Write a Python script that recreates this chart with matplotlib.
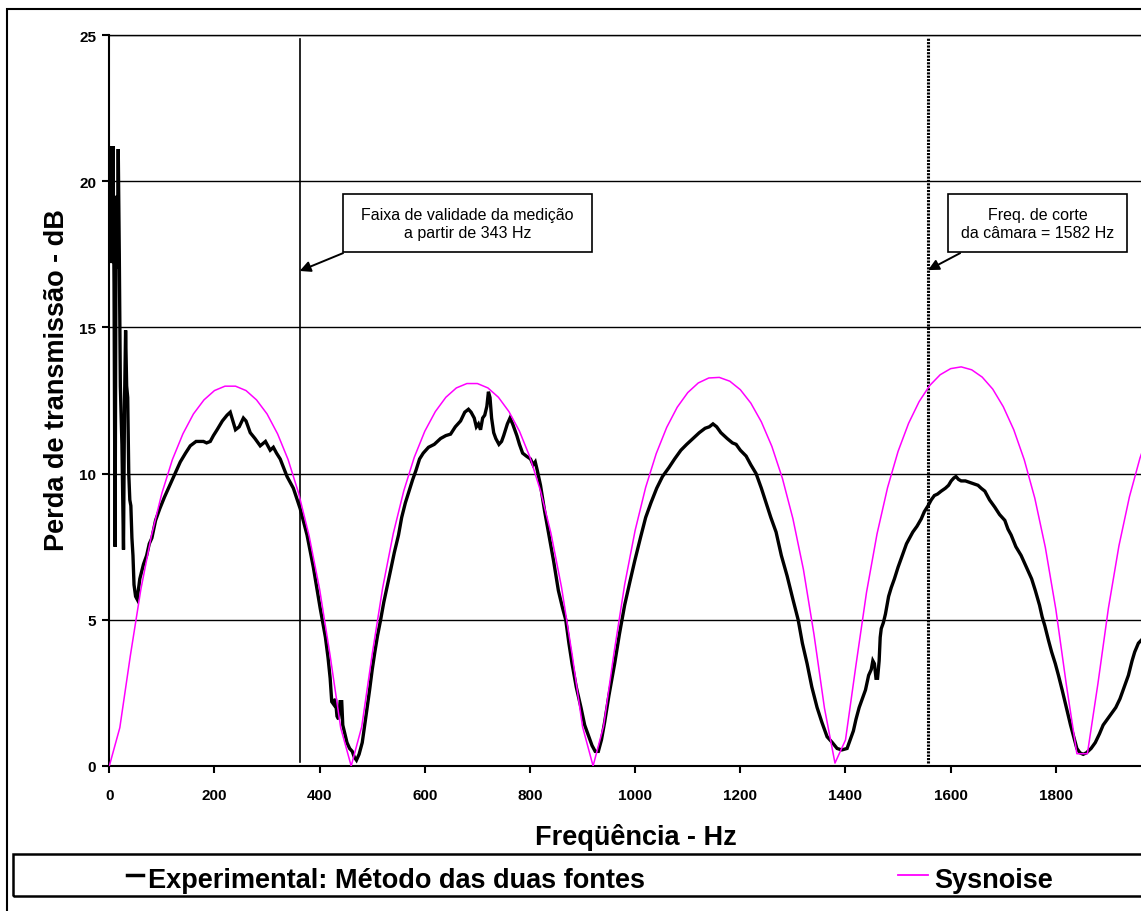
import matplotlib
matplotlib.use('Agg')
import matplotlib.pyplot as plt
from matplotlib.patches import Rectangle
from matplotlib.lines import Line2D
import numpy as np

plt.rcParams['font.family'] = ['Liberation Sans', 'DejaVu Sans']

W, H = 1141, 912

# ── Sysnoise prediction, read every 20 Hz from the picture ──────────────────
sys_freq = np.arange(0, 2001, 20)
sys_tl = [
    0.00, 1.31, 3.77, 6.04, 7.87, 9.33, 10.48, 11.36, 12.04, 12.52, 12.84, 12.99,
    12.99, 12.84, 12.52, 12.04, 11.36, 10.48, 9.33, 7.87, 6.04, 3.77, 1.31, 0.00,
    1.34, 3.83, 6.11, 7.95, 9.41, 10.56, 11.45, 12.12, 12.61, 12.93, 13.08,
    13.08, 12.93, 12.61, 12.12, 11.45, 10.56, 9.41, 7.95, 6.11, 3.83, 1.34, 0.00,
    1.37, 3.89, 6.20, 8.06, 9.53, 10.68, 11.58, 12.27, 12.77, 13.10, 13.27,
    13.29, 13.16, 12.87, 12.41, 11.77, 10.93, 9.84, 8.46, 6.72, 4.51, 1.98, 0.10,
    0.89, 3.46, 5.94, 7.94, 9.52, 10.76, 11.72, 12.46, 13.01, 13.38, 13.59,
    13.65, 13.55, 13.30, 12.89, 12.29, 11.50, 10.47, 9.16, 7.48, 5.36, 2.78, 0.42,
    0.42, 2.81, 5.40, 7.53, 9.21, 10.53, 11.56, 12.35,
]

# ── Experimental (two-source method) ────────────────────────────────────────
exp_freq = [
    1, 3, 5, 7, 9, 11, 13, 15, 17, 19, 21, 24, 27, 29, 31, 33, 35, 37, 39, 41,
    43, 45, 47, 50, 53, 58, 65, 71, 76, 81, 88, 96, 105, 115, 125, 135, 145,
    154, 165, 179, 185, 192, 198, 205, 215, 224, 230, 235, 240, 247, 255, 260,
    268, 277, 287, 297, 306, 312, 318, 325, 338, 350, 363, 376, 388, 401, 411,
    416, 420, 423, 427, 430, 433, 436, 439, 442, 444, 448, 452, 457, 462, 466,
    470, 475, 481, 485, 490, 495, 500, 505, 510, 516, 522, 528, 535, 542, 550,
    556, 563, 570, 577, 583, 590, 597, 607, 618, 630, 640, 649, 658, 668, 676,
    683, 688, 694, 698, 702, 706, 710, 714, 718, 721, 724, 727, 731, 735, 741,
    746, 750, 757, 762, 767, 775, 780, 786, 793, 801, 806, 810, 814, 820, 828,
    835, 845, 854, 862, 868, 874, 880, 888, 897, 904, 912, 918, 924, 930, 936,
    942, 950, 956, 961, 970, 980, 990, 999, 1010, 1020, 1030, 1041, 1052, 1064,
    1075, 1087, 1098, 1110, 1122, 1133, 1141, 1148, 1155, 1163, 1175, 1185,
    1192, 1200, 1211, 1220, 1230, 1240, 1249, 1258, 1268, 1278, 1289, 1300,
    1310, 1318, 1327, 1336, 1346, 1355, 1365, 1375, 1384, 1393, 1403, 1409,
    1415, 1420, 1426, 1432, 1438, 1444, 1449, 1452, 1455, 1458, 1461, 1464,
    1466, 1468, 1472, 1476, 1482, 1487, 1493, 1500, 1506, 1516, 1528, 1536,
    1544, 1550, 1557, 1563, 1569, 1575, 1582, 1590, 1596, 1601, 1606, 1610,
    1615, 1620, 1628, 1636, 1644, 1652, 1658, 1665, 1674, 1684, 1693, 1703,
    1709, 1715, 1724, 1734, 1744, 1754, 1761, 1769, 1774, 1779, 1786, 1792,
    1799, 1805, 1812, 1820, 1828, 1834, 1840, 1846, 1852, 1858, 1867, 1875,
    1883, 1890, 1898, 1914, 1922, 1930, 1938, 1945, 1950, 1957, 1965, 1975, 1985,
]
exp_tl = [
    20.8, 21.2, 17.2, 21.2, 16.5, 7.5, 19.5, 17.0, 21.1, 17.5, 13.0, 11.0, 7.4,
    12.5, 14.9, 13.0, 12.6, 10.0, 9.1, 8.9, 7.8, 7.2, 6.2, 5.8, 5.7, 6.4, 6.9,
    7.2, 7.6, 7.8, 8.4, 8.8, 9.2, 9.6, 10.0, 10.4, 10.7, 10.95, 11.1, 11.1,
    11.05, 11.1, 11.3, 11.5, 11.8, 12.0, 12.1, 11.8, 11.5, 11.6, 11.9, 11.8,
    11.4, 11.2, 10.95, 11.1, 10.8, 10.9, 10.7, 10.5, 9.9, 9.5, 8.8, 7.9, 6.8,
    5.4, 4.4, 3.7, 3.0, 2.2, 2.1, 2.3, 1.7, 1.6, 2.2, 2.2, 1.4, 1.1, 0.8, 0.6,
    0.5, 0.3, 0.2, 0.4, 0.8, 1.3, 1.95, 2.6, 3.3, 3.9, 4.45, 5.0, 5.6, 6.1,
    6.7, 7.3, 7.9, 8.5, 9.0, 9.4, 9.8, 10.1, 10.5, 10.7, 10.9, 11.0, 11.2,
    11.3, 11.35, 11.6, 11.8, 12.1, 12.2, 12.1, 11.9, 11.6, 11.7, 11.5, 11.9,
    12.0, 12.3, 12.8, 12.6, 11.9, 11.4, 11.2, 11.0, 11.1, 11.3, 11.7, 11.9,
    11.7, 11.3, 11.0, 10.7, 10.6, 10.5, 10.3, 10.4, 10.1, 9.6, 8.7, 8.0, 7.0,
    6.0, 5.4, 5.0, 4.2, 3.5, 2.7, 2.0, 1.4, 1.0, 0.7, 0.5, 0.5, 0.9, 1.5, 2.4,
    3.0, 3.5, 4.5, 5.5, 6.3, 7.0, 7.8, 8.5, 9.0, 9.5, 9.9, 10.2, 10.5, 10.8,
    11.0, 11.2, 11.4, 11.55, 11.6, 11.7, 11.6, 11.4, 11.2, 11.05, 11.0, 10.8,
    10.6, 10.3, 10.0, 9.5, 9.0, 8.5, 8.0, 7.2, 6.5, 5.7, 5.0, 4.2, 3.5, 2.7,
    2.0, 1.5, 1.0, 0.8, 0.6, 0.55, 0.6, 0.9, 1.2, 1.6, 2.0, 2.3, 2.6, 3.1,
    3.3, 3.6, 3.5, 3.0, 3.0, 3.6, 4.4, 4.7, 4.9, 5.2, 5.8, 6.1, 6.4, 6.8, 7.1,
    7.6, 8.0, 8.2, 8.45, 8.7, 8.9, 9.1, 9.25, 9.3, 9.4, 9.5, 9.6, 9.75, 9.85,
    9.9, 9.8, 9.75, 9.75, 9.7, 9.65, 9.6, 9.5, 9.4, 9.1, 8.85, 8.6, 8.4, 8.1,
    7.9, 7.5, 7.2, 6.8, 6.4, 6.0, 5.5, 5.1, 4.8, 4.3, 3.9, 3.5, 3.1, 2.6, 2.0,
    1.4, 1.0, 0.6, 0.45, 0.4, 0.45, 0.6, 0.8, 1.1, 1.4, 1.6, 2.0, 2.3, 2.7,
    3.1, 3.6, 3.9, 4.2, 4.35, 4.5, 4.6,
]

# reference lines / annotations
f_valid = 362     # vertical line drawn at the "343 Hz" validity limit
f_cut = 1557      # dotted line, chamber cut-off
note_valid = 'Faixa de validade da medição\na partir de 343 Hz'
note_cut = 'Freq. de corte\nda câmara = 1582 Hz'

x_ticks = [0, 200, 400, 600, 800, 1000, 1200, 1400, 1600, 1800]
y_ticks = [0, 5, 10, 15, 20, 25]

fig = plt.figure(figsize=(W / 100, H / 100), dpi=100)
ax = fig.add_axes([109.3 / W, 145 / H, (1161 - 109.3) / W, 731 / H])

ax.plot(exp_freq, exp_tl, color='black', lw=2.4, solid_joinstyle='miter', zorder=3)
ax.plot(sys_freq, sys_tl, color='#FF00FF', lw=1.1, zorder=4)

ax.plot([f_valid, f_valid], [0.15, 24.85], color='black', lw=1.2, zorder=2)
ax.plot([f_cut, f_cut], [0.1, 24.9], color='black', lw=2.2, dashes=(0.7, 0.4), zorder=2)

ax.set_xlim(0, 2000)
ax.set_ylim(0, 25)
ax.set_xticks(x_ticks, [str(t) for t in x_ticks], fontweight='bold', fontsize=11)
ax.set_yticks(y_ticks, [str(t) for t in y_ticks], fontweight='bold', fontsize=11)
ax.tick_params(axis='x', direction='out', length=5, width=1.5, pad=11)
ax.tick_params(axis='y', direction='out', length=5, width=1.5, pad=4.5)
ax.yaxis.grid(True, color='black', lw=1.0)
ax.set_axisbelow(True)
for s in ('left', 'bottom'):
    ax.spines[s].set_linewidth(1.5)
ax.spines['top'].set_linewidth(1.0)
ax.spines['right'].set_visible(False)

# annotation boxes
for (x0, x1, xc, txt, tail, head) in [
        (444.5, 918, 681, note_valid, (444.5, 17.54), (f_valid, 16.93)),
        (1595, 1935.5, 1765, note_cut, (1618, 17.54), (f_cut, 16.96))]:
    ax.add_patch(Rectangle((x0, 17.57), x1 - x0, 19.56 - 17.57, fill=True,
                           fc='white', ec='black', lw=1.2, zorder=5))
    ax.text(xc, 18.57, txt, ha='center', va='center', fontsize=11.5,
            linespacing=1.25, zorder=6)
    ax.annotate('', xy=head, xytext=tail,
                arrowprops=dict(arrowstyle='-|>', color='black', lw=1.4,
                                mutation_scale=16, shrinkA=0, shrinkB=0),
                zorder=6)

# axis titles
fig.text(635.5 / W, (H - 845) / H, 'Freqüência - Hz', ha='center', va='baseline',
         fontsize=19.5, fontweight='bold')
fig.text(70 / W, (H - 380) / H, 'Perda de transmissão - dB', rotation=90,
         ha='right', va='center', fontsize=19.5, fontweight='bold')

# outer frame and legend box
fig.add_artist(Rectangle((7 / W, -0.05), 1.2, (H - 10) / H + 0.05,
                         transform=fig.transFigure, fill=False, ec='black', lw=1.5))
fig.add_artist(Rectangle((13 / W, (H - 897) / H), 1.2, 42 / H,
                         transform=fig.transFigure, fill=False, ec='black', lw=1.8))
yl = (H - 876) / H
yb = (H - 888) / H
fig.add_artist(Line2D([127 / W, 143 / W], [yl, yl], transform=fig.transFigure,
                      color='black', lw=2.5))
fig.text(148 / W, yb, 'Experimental: Método das duas fontes', ha='left',
         va='baseline', fontsize=19.5, fontweight='bold')
fig.add_artist(Line2D([898 / W, 928 / W], [yl, yl], transform=fig.transFigure,
                      color='#FF00FF', lw=1.3))
fig.text(934 / W, yb, 'Sysnoise', ha='left', va='baseline', fontsize=19.5,
         fontweight='bold')

fig.savefig('out.png', dpi=100)
